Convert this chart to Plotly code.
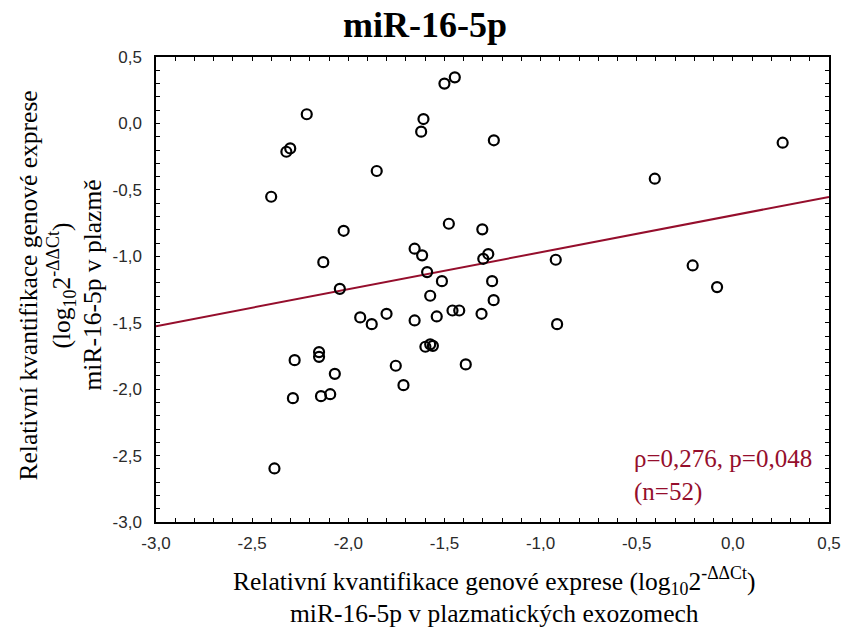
import plotly.graph_objects as go

# Data
x_exo = [-1.446, -1.50, -2.216, -1.609, -1.621, -1.243, -2.302, -2.322, -1.852, -2.401,
         -1.477, -1.303, -2.024, -1.655, -1.616, -1.272, -1.298, -2.130, -1.590, -1.513,
         -1.252, -2.044, -1.574, 0.259, -0.406, -0.921, -0.209, -0.082, -1.244, -1.938,
         -1.878, -1.801, -1.655, -1.540, -1.458, -1.423, -1.307, -1.599, -1.574, -1.560,
         -1.389, -1.753, -1.713, -2.279, -2.152, -2.152, -2.070, -2.288, -2.142, -2.094,
         -2.384, -0.914]
y_plasma = [0.347, 0.30, 0.069, 0.033, -0.062, -0.127, -0.188, -0.213, -0.358, -0.552,
            -0.755, -0.797, -0.808, -0.943, -0.993, -0.983, -1.019, -1.044, -1.119, -1.187,
            -1.187, -1.245, -1.297, -0.145, -0.416, -1.026, -1.069, -1.232, -1.33, -1.460,
            -1.511, -1.433, -1.483, -1.453, -1.408, -1.408, -1.433, -1.681, -1.663, -1.674,
            -1.814, -1.824, -1.970, -1.782, -1.721, -1.757, -1.885, -2.068, -2.053, -2.038,
            -2.597, -1.511]

fit_intercept = -0.692
fit_slope = 0.278
x_range = [-3.0, 0.5]
y_range = [-3.0, 0.5]

x_tickvals = [-3.0, -2.5, -2.0, -1.5, -1.0, -0.5, 0.0, 0.5]
x_ticktext = ["-3,0", "-2,5", "-2,0", "-1,5", "-1,0", "-0,5", "0,0", "0,5"]
y_tickvals = [-3.0, -2.5, -2.0, -1.5, -1.0, -0.5, 0.0, 0.5]
y_ticktext = ["-3,0", "-2,5", "-2,0", "-1,5", "-1,0", "-0,5", "0,0", "0,5"]

title_text = "miR-16-5p"
stat_text = "ρ=0,276, p=0,048<br>(n=52)"
stat_pos = (-0.525, -2.648)

line_color = "#950E2C"
serif = "Liberation Serif, Times New Roman, serif"
sans = "Liberation Sans, Arial, sans-serif"

fit_y = [fit_intercept + fit_slope * xv for xv in x_range]

fig = go.Figure()
fig.add_trace(go.Scatter(x=x_range, y=fit_y, mode="lines",
                         line=dict(color=line_color, width=2), hoverinfo="skip"))
fig.add_trace(go.Scatter(x=x_exo, y=y_plasma, mode="markers",
                         marker=dict(symbol="circle-open", size=10, color="black",
                                     line=dict(width=2.2, color="black"))))

axis_common = dict(showline=True, linecolor="black", linewidth=1.5, mirror="allticks",
                   ticks="inside", ticklen=4, tickcolor="black", tickwidth=1,
                   showgrid=False, zeroline=False,
                   tickfont=dict(family=sans, size=17, color="#2a2a2a"),
                   minor=dict(ticks="inside", ticklen=4, tickcolor="black", dtick=0.1, showgrid=False))

fig.update_xaxes(range=x_range, tickvals=x_tickvals, ticktext=x_ticktext,
                 ticklabelstandoff=5, **axis_common)
fig.update_yaxes(range=y_range, tickvals=y_tickvals, ticktext=y_ticktext,
                 ticklabelstandoff=9, **axis_common)

fig.update_layout(
    width=853, height=630,
    margin=dict(l=156, r=15, t=57, b=108),
    plot_bgcolor="white", paper_bgcolor="white",
    showlegend=False,
)

L, W = 156, 682
fig.add_annotation(text="<b>" + title_text + "</b>", xref="paper", yref="paper",
                   x=(429 - L) / W, y=1, yshift=32, showarrow=False,
                   font=dict(family=serif, size=36, color="black"), xanchor="center", yanchor="middle")

fig.add_annotation(text=stat_text, xref="x", yref="y", x=stat_pos[0], y=stat_pos[1],
                   showarrow=False, align="left", xanchor="left", yanchor="middle",
                   font=dict(family=serif, size=25, color=line_color))

# X axis title
fig.add_annotation(text="Relativní kvantifikace genové exprese (log<sub>10</sub>2<sup>-ΔΔCt</sup>)",
                   xref="paper", yref="paper", x=(499 - L) / W, y=0, yshift=-59,
                   showarrow=False, xanchor="center", yanchor="middle",
                   font=dict(family=serif, size=25.5, color="black"))
fig.add_annotation(text="miR-16-5p v plazmatických exozomech",
                   xref="paper", yref="paper", x=(499 - L) / W, y=0, yshift=-91,
                   showarrow=False, xanchor="center", yanchor="middle",
                   font=dict(family=serif, size=25.5, color="black"))

# Y axis title (three lines)
ylines = ["Relativní kvantifikace genové exprese",
          "(log<sub>10</sub>2<sup>-ΔΔCt</sup>)",
          "miR-16-5p v plazmě"]
xpix = [28, 61, 92]
for t, px in zip(ylines, xpix):
    fig.add_annotation(text=t, xref="paper", yref="paper", x=0, xshift=px - L,
                       y=0.5, yshift=4, showarrow=False, textangle=-90,
                       xanchor="center", yanchor="middle",
                       font=dict(family=serif, size=25.5, color="black"))

fig.write_html("out.html")
